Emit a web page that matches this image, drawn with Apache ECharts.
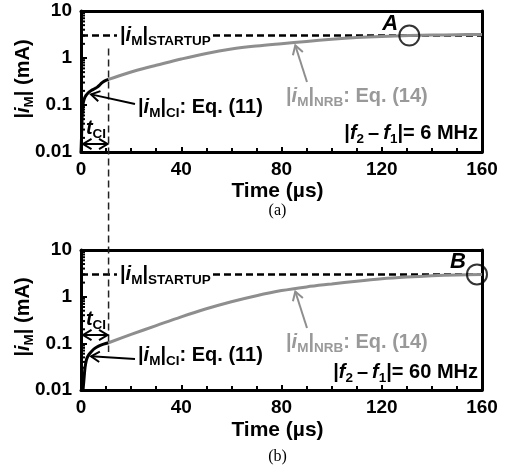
<!DOCTYPE html>
<html>
<head>
<meta charset="utf-8">
<script src="https://cdn.jsdelivr.net/npm/echarts@6/dist/echarts.min.js"></script>
<style>
html, body { margin: 0; padding: 0; background: #fff; }
#chart { width: 506px; height: 471px; }
</style>
</head>
<body>
<div id="chart"></div>
<script>
// Axis ticks
const xTicks = [0, 40, 80, 120, 160];
const yTicks = [0.01, 0.1, 1, 10];
const yMinorTicks = [0.02, 0.03, 0.04, 0.05, 0.06, 0.07, 0.08, 0.09,
                     0.2, 0.3, 0.4, 0.5, 0.6, 0.7, 0.8, 0.9,
                     2, 3, 4, 5, 6, 7, 8, 9];

// Shared levels
const startupCurrent = 3.0;   // |iM|STARTUP, mA
const tCI = 11;               // end of the coupled-injection phase, µs

// (a) |f2 - f1| = 6 MHz
const ciTimeA = [0, 0.2, 0.4, 0.6, 0.9, 1.3, 2.0, 2.8, 3.6, 4.5, 5.6, 6.5, 7.4, 8.3, 9.5, 11];
const ciCurrentA = [0.01, 0.02, 0.045, 0.08, 0.11, 0.135, 0.16, 0.18, 0.195, 0.21, 0.225, 0.24, 0.265, 0.295, 0.325, 0.35];
const nrbTimeA = [11, 15, 20, 25, 30, 40, 50, 60, 70, 80, 90, 100, 110, 120, 131, 140, 150, 160];
const nrbCurrentA = [0.35, 0.415, 0.505, 0.6, 0.7, 0.95, 1.25, 1.55, 1.8, 2.02, 2.25, 2.5, 2.72, 2.88, 3.0, 3.07, 3.13, 3.18];
const pointA = [131, 3.0];

// (b) |f2 - f1| = 60 MHz
const ciTimeB = [0.8, 1.0, 1.3, 1.6, 2.2, 3.0, 4.3, 5.5, 7.0, 9.0, 11];
const ciCurrentB = [0.01, 0.013, 0.02, 0.03, 0.045, 0.056, 0.068, 0.078, 0.087, 0.096, 0.103];
const nrbTimeB = [11, 20, 30, 40, 50, 60, 70, 80, 90, 100, 110, 120, 130, 140, 150, 160];
const nrbCurrentB = [0.103, 0.155, 0.24, 0.37, 0.55, 0.78, 1.05, 1.35, 1.62, 1.87, 2.15, 2.42, 2.63, 2.8, 2.92, 3.0];
const pointB = [158, 3.0];

const FONT = '"Liberation Sans", Arial, Helvetica, sans-serif';
const SERIF = '"Liberation Serif", "Times New Roman", serif';
const GRAY_LINE = '#8e8e8e';
const GRAY_TEXT = '#999999';

const zip = (a, b) => a.map((v, i) => [v, b[i]]);

const grids = [
  { left: 81, top: 11, width: 401, height: 141 },
  { left: 81, top: 250, width: 401, height: 140 }
];

const frameLine = { show: true, onZero: false, lineStyle: { color: '#000', width: 3 } };

function xAxisFor(g) {
  return {
    type: 'value', gridIndex: g, min: xTicks[0], max: xTicks[xTicks.length - 1], interval: 40,
    axisLine: frameLine,
    axisTick: { show: true, inside: true, length: 5, lineStyle: { color: '#000', width: 2 } },
    minorTick: { show: true, splitNumber: 4, length: 4, lineStyle: { color: '#000', width: 2 } },
    splitLine: { show: false },
    axisLabel: { margin: 8, fontFamily: FONT, fontSize: 19, fontWeight: 'bold', color: '#000' }
  };
}
function yAxisFor(g) {
  return {
    type: 'log', logBase: 10, gridIndex: g, min: yTicks[0], max: yTicks[yTicks.length - 1],
    axisLine: frameLine,
    axisTick: { show: true, inside: true, length: 6, lineStyle: { color: '#000', width: 2 } },
    splitLine: { show: false },
    axisLabel: {
      margin: 9, fontFamily: FONT, fontSize: 19, fontWeight: 'bold', color: '#000',
      formatter: v => (v < 1 ? String(+v.toPrecision(2)) : String(Math.round(v)))
    }
  };
}
// top and right edges of each frame
function xEdgeFor(g) {
  return {
    type: 'value', gridIndex: g, position: 'top', min: xTicks[0], max: xTicks[xTicks.length - 1],
    axisLine: frameLine, axisTick: { show: false }, axisLabel: { show: false }, splitLine: { show: false }
  };
}
function yEdgeFor(g) {
  return {
    type: 'log', logBase: 10, gridIndex: g, position: 'right', min: yTicks[0], max: yTicks[yTicks.length - 1],
    axisLine: frameLine, axisTick: { show: false }, axisLabel: { show: false }, splitLine: { show: false }
  };
}

function curveSeries(g, ts, vs, color) {
  return {
    type: 'line', xAxisIndex: g, yAxisIndex: g, data: zip(ts, vs),
    showSymbol: false, smooth: 0.35, silent: true,
    lineStyle: { color: color, width: 3 }, z: 4
  };
}
function startupSeries(g) {
  return {
    type: 'line', xAxisIndex: g, yAxisIndex: g,
    data: [[xTicks[0], startupCurrent], [xTicks[xTicks.length - 1], startupCurrent]],
    showSymbol: false, silent: true,
    lineStyle: { color: '#000', width: 2.5, type: [7, 4] }, z: 3
  };
}
function minorTickSeries(g) {
  return {
    type: 'custom', xAxisIndex: g, yAxisIndex: g, silent: true, z: 5,
    data: yMinorTicks.map(v => [xTicks[0], v]),
    renderItem: (params, api) => {
      const p = api.coord([api.value(0), api.value(1)]);
      return {
        type: 'line',
        shape: { x1: p[0], y1: p[1], x2: p[0] + 4, y2: p[1] },
        style: { stroke: '#000', lineWidth: 2 }
      };
    }
  };
}
function markerSeries(g, pt) {
  return {
    type: 'scatter', xAxisIndex: g, yAxisIndex: g, data: [pt], silent: true,
    symbol: 'circle', symbolSize: 20, z: 6,
    itemStyle: { color: 'rgba(0,0,0,0)', borderColor: '#000', borderWidth: 2 }
  };
}

const chart = echarts.init(document.getElementById('chart'), null, { renderer: 'canvas' });

chart.setOption({
  animation: false,
  backgroundColor: '#fff',
  grid: grids.map(g => Object.assign({ show: false }, g)),
  xAxis: [xAxisFor(0), xAxisFor(1), xEdgeFor(0), xEdgeFor(1)],
  yAxis: [yAxisFor(0), yAxisFor(1), yEdgeFor(0), yEdgeFor(1)],
  series: [
    startupSeries(0), startupSeries(1),
    curveSeries(0, ciTimeA, ciCurrentA, '#000'),
    curveSeries(0, nrbTimeA, nrbCurrentA, GRAY_LINE),
    curveSeries(1, ciTimeB, ciCurrentB, '#000'),
    curveSeries(1, nrbTimeB, nrbCurrentB, GRAY_LINE),
    minorTickSeries(0), minorTickSeries(1),
    markerSeries(0, pointA), markerSeries(1, pointB)
  ]
});

// ---- annotations ----
const px = (g, pt) => chart.convertToPixel({ xAxisIndex: g, yAxisIndex: g }, pt);

// value on a curve at time t, interpolated in log space
function curveAt(ts, vs, t) {
  for (let i = 1; i < ts.length; i++) {
    if (t <= ts[i]) {
      const f = (t - ts[i - 1]) / (ts[i] - ts[i - 1]);
      return Math.pow(10, Math.log10(vs[i - 1]) + f * (Math.log10(vs[i]) - Math.log10(vs[i - 1])));
    }
  }
  return vs[vs.length - 1];
}

function rich(color) {
  const base = { fontFamily: FONT, fontWeight: 'bold', fill: color };
  return {
    n: Object.assign({ fontSize: 20, lineHeight: 26 }, base),
    i: Object.assign({ fontSize: 20, lineHeight: 26, fontStyle: 'italic' }, base),
    s: Object.assign({ fontSize: 13.5, lineHeight: 15, verticalAlign: 'bottom' }, base),
    u: Object.assign({ fontSize: 13.5, lineHeight: 20, verticalAlign: 'bottom' }, base)
  };
}
function text(x, y, str, color, align, extra) {
  return {
    type: 'text', x: x, y: y, z: 100,
    style: Object.assign({ text: str, rich: rich(color), align: align || 'left', verticalAlign: 'middle' }, extra || {})
  };
}
function plain(x, y, str, font, color, align) {
  return {
    type: 'text', x: x, y: y, z: 100,
    style: { text: str, font: font, fill: color, align: align || 'center', verticalAlign: 'middle' }
  };
}
function arrowHead(tip, angle, color, lw) {
  const L = 10, h = 0.55;
  const p1 = [tip[0] - L * Math.cos(angle - h), tip[1] - L * Math.sin(angle - h)];
  const p2 = [tip[0] - L * Math.cos(angle + h), tip[1] - L * Math.sin(angle + h)];
  return { type: 'polyline', z: 100, shape: { points: [p1, tip, p2] }, style: { stroke: color, lineWidth: lw, fill: null } };
}
function arrow(tail, tip, color, lw) {
  const a = Math.atan2(tip[1] - tail[1], tip[0] - tail[0]);
  return [
    { type: 'line', z: 100, shape: { x1: tail[0], y1: tail[1], x2: tip[0], y2: tip[1] }, style: { stroke: color, lineWidth: lw } },
    arrowHead(tip, a, color, lw)
  ];
}
function doubleArrow(g, y) {
  const a = px(g, [0, 1])[0] + 2, b = px(g, [tCI, 1])[0] - 1;
  return [
    { type: 'line', z: 100, shape: { x1: a, y1: y, x2: b, y2: y }, style: { stroke: '#000', lineWidth: 2 } },
    arrowHead([a, y], Math.PI, '#000', 2),
    arrowHead([b, y], 0, '#000', 2)
  ];
}

const STARTUP = '{n||}{i|i}{s|M}{n||}{s|STARTUP}';
const CI = '{n||}{i|i}{s|M}{n||}{s|CI}{n|: Eq. (11)}';
const NRB = '{n||}{i|i}{s|M}{n||}{s|NRB}{n|: Eq. (14)}';
const YNAME = '{n||}{i|i}{s|M}{n|| (mA)}';
const TCI = '{i|t}{s|CI}';

const elements = [];
const panels = [
  { g: 0, ciT: ciTimeA, ciV: ciCurrentA, nrbT: nrbTimeA, nrbV: nrbCurrentA, pt: pointA, letter: 'A', df: '6' },
  { g: 1, ciT: ciTimeB, ciV: ciCurrentB, nrbT: nrbTimeB, nrbV: nrbCurrentB, pt: pointB, letter: 'B', df: '60' }
];

panels.forEach(p => {
  const startY = px(p.g, [0, startupCurrent])[1];

  // startup level label sitting on the dashed line
  elements.push(text(117, startY, STARTUP, '#000', 'left', { backgroundColor: '#fff', padding: [0, 2, 0, 3] }));

  // coupled-injection curve label and arrow
  const ciTip = px(p.g, [3.6, curveAt(p.ciT, p.ciV, 3.6)]);
  const ciLabelY = p.g === 0 ? 107 : 355;
  elements.push(text(138, ciLabelY, CI, '#000', 'left'));
  elements.push(...arrow([135, ciLabelY - 3 + (p.g === 0 ? 0 : 7)], [ciTip[0] + 1, ciTip[1] + 3], '#000', 2));

  // NRB curve label and arrow
  const nrbTip = px(p.g, [85.5, curveAt(p.nrbT, p.nrbV, 85.5)]);
  const nrbLabelY = p.g === 0 ? 96 : 342;
  elements.push(text(286, nrbLabelY, NRB, GRAY_TEXT, 'left'));
  elements.push(...arrow([307, nrbLabelY - 14], [nrbTip[0], nrbTip[1] + 3], GRAY_LINE, 2));

  // frequency offset label
  const dfY = p.g === 0 ? 133 : 372;
  elements.push(text(478, dfY, '{n||}{i|f}{u|2}{n|\u2009\u2013\u2009}{i|f}{u|1}{n||= ' + p.df + ' MHz}', '#000', 'right'));

  // point letter next to the circled marker
  const mk = px(p.g, p.pt);
  elements.push(plain(mk[0] - 19, mk[1] - 12, p.letter, 'italic bold 22px ' + FONT, '#000', 'center'));

  // t_CI span
  const spanY = p.g === 0 ? 144 : 335;
  elements.push(...doubleArrow(p.g, spanY));
  elements.push(text(96, spanY - 16, TCI, '#000', 'center'));

  // axis titles
  elements.push({
    type: 'text', x: 23, y: p.g === 0 ? 79 : 317, rotation: Math.PI / 2, z: 100,
    style: { text: YNAME, rich: rich('#000'), align: 'center', verticalAlign: 'middle' }
  });
  const xMid = (px(p.g, [xTicks[0], 1])[0] + px(p.g, [xTicks[xTicks.length - 1], 1])[0]) / 2 - 4;
  elements.push(plain(xMid, (p.g === 0 ? 191 : 430), 'Time (\u00b5s)', 'bold 21px ' + FONT, '#000', 'center'));
  elements.push(plain(xMid, (p.g === 0 ? 211 : 457), p.g === 0 ? '(a)' : '(b)', '16px ' + SERIF, '#000', 'center'));
});

// vertical dashed marker at t_CI spanning both panels
const vTop = px(0, [tCI, 1.6]);
const vBot = px(1, [tCI, 0.065]);
elements.push({
  type: 'line', z: 90,
  shape: { x1: vTop[0], y1: vTop[1], x2: vBot[0], y2: vBot[1] },
  style: { stroke: '#222', lineWidth: 1.5, lineDash: [7, 4] }
});

chart.setOption({ graphic: { elements: elements } });
</script>
</body>
</html>
